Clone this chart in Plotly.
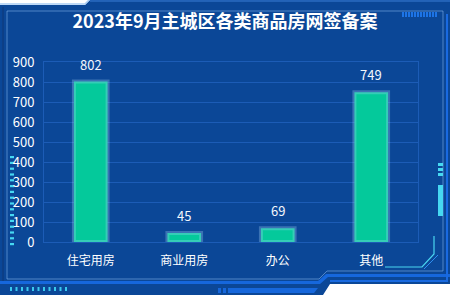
import plotly.graph_objects as go

categories = ["住宅用房", "商业用房", "办公", "其他"]
values = [802, 45, 69, 749]
y_ticks = [0, 100, 200, 300, 400, 500, 600, 700, 800, 900]
title_text = "2023年9月主城区各类商品房网签备案"

W, H = 450, 297
L, R, T, B = 44, 32, 62, 55
PW, PH = W - L - R, H - T - B

def px(x):
    return (x - L) / PW

def py(y):
    return (H - B - y) / PH

def path(points, close=True):
    s = "M " + " L ".join(f"{px(x):.5f},{py(y):.5f}" for x, y in points)
    return s + (" Z" if close else "")

BG = "#0b4797"
GRID = "#1c5cb6"
FONT = "Noto Sans CJK SC"

fig = go.Figure()
fig.add_trace(go.Bar(
    x=categories, y=values, width=0.36,
    marker=dict(color="#04c99b", line=dict(color="rgba(170,215,250,0.30)", width=4)),
    hoverinfo="skip",
))
for c, v in zip(categories, values):
    fig.add_annotation(x=c, y=v, text=str(v), showarrow=False, yanchor="bottom", yshift=6,
                       font=dict(color="#f2f6fc", size=13, family=FONT))

shapes = []
def add(**kw):
    kw.setdefault("layer", "below")
    kw.setdefault("xref", "paper")
    kw.setdefault("yref", "paper")
    shapes.append(kw)

def rect(x0, y0, x1, y1, color):
    add(type="rect", fillcolor=color, line=dict(width=0),
        x0=px(x0), x1=px(x1), y0=py(y1), y1=py(y0))

# main panel
add(type="path", fillcolor=BG, line=dict(width=0),
    path=path([(0, 5), (85, 5), (90, 0), (450, 0), (450, 284), (330, 284), (323, 295), (0, 295)]))
# top-left light line
add(type="path", line=dict(color="#a9cdf5", width=1.5),
    path=path([(0, 4), (85, 4), (90, -1)], close=False))
# top line to right
add(type="path", line=dict(color="#3c7fd8", width=1),
    path=path([(90, 1), (450, 1)], close=False))
# inner border
add(type="path", line=dict(color="rgba(140,185,240,0.55)", width=1),
    path=path([(7, 11), (443, 11), (443, 271), (327, 271), (319, 279), (7, 279)]))
# outer darker border band left
add(type="path", line=dict(color="#0d3f86", width=2),
    path=path([(3, 7), (3, 282)], close=False))
# bottom bright band
add(type="path", fillcolor="#1667dc", line=dict(width=0),
    path=path([(0, 281), (318, 281), (326, 274), (450, 274), (450, 277), (328, 277), (320, 284), (0, 284)]))
add(type="path", fillcolor="#1667dc", line=dict(width=0),
    path=path([(228, 288), (318, 288), (314, 293), (228, 293)]))
rect(218, 288, 221, 293, "#1667dc")
rect(223, 288, 226, 293, "#1667dc")
add(type="path", line=dict(color="#1a6ae0", width=2),
    path=path([(330, 281), (447, 281), (447, 14)], close=False))
# bottom-left dots
for i in range(11):
    x0 = 10 + i * 5.5
    rect(x0, 287, x0 + 2, 291, "#39c9ee")
# left cyan dashes
for i in range(16):
    y0 = 156 + i * 5.8
    rect(10, y0, 14, y0 + 2.2, "#46d8f2")
# right cyan dashes and bar
for i in range(3):
    y0 = 163 + i * 5
    rect(438, y0, 443, y0 + 3, "#46d8f2")
rect(438, 185, 443, 216, "#46d8f2")
# bottom-right cyan corner line
add(type="path", line=dict(color="#4ad6f0", width=1.2),
    path=path([(385, 267), (422, 267), (434, 254), (434, 236)], close=False))
add(type="path", line=dict(color="#2f8ef0", width=1),
    path=path([(424, 269), (438, 255)], close=False))
# top right dashed bar
for i in range(12):
    x0 = 402 + i * 3
    rect(x0, 12, x0 + 2, 17, "#1d74e6")

fig.update_layout(
    width=W, height=H,
    margin=dict(l=L, r=R, t=T, b=B),
    paper_bgcolor="#ffffff",
    plot_bgcolor="rgba(0,0,0,0)",
    showlegend=False,
    shapes=shapes,
    title=dict(text=f"<b>{title_text}</b>", x=0.5, xref="container", xanchor="center",
               y=1 - 22 / H, yref="container", yanchor="middle",
               font=dict(color="#ffffff", size=18, family=FONT)),
    font=dict(family=FONT, color="#e8eef8", size=12),
)
fig.update_xaxes(showgrid=False, showline=True, linecolor=GRID, linewidth=1, mirror=True,
                 ticks="", tickfont=dict(size=12, color="#ffffff", family=FONT),
                 ticklabelstandoff=8, fixedrange=True)
fig.update_yaxes(range=[0, 900], tickvals=y_ticks, showgrid=True, gridcolor=GRID, gridwidth=1,
                 showline=True, linecolor=GRID, mirror=True, zeroline=False,
                 tickfont=dict(size=13, color="#ffffff", family=FONT),
                 ticklabelstandoff=6, fixedrange=True)

fig.write_html("out.html", config={"displayModeBar": False})
